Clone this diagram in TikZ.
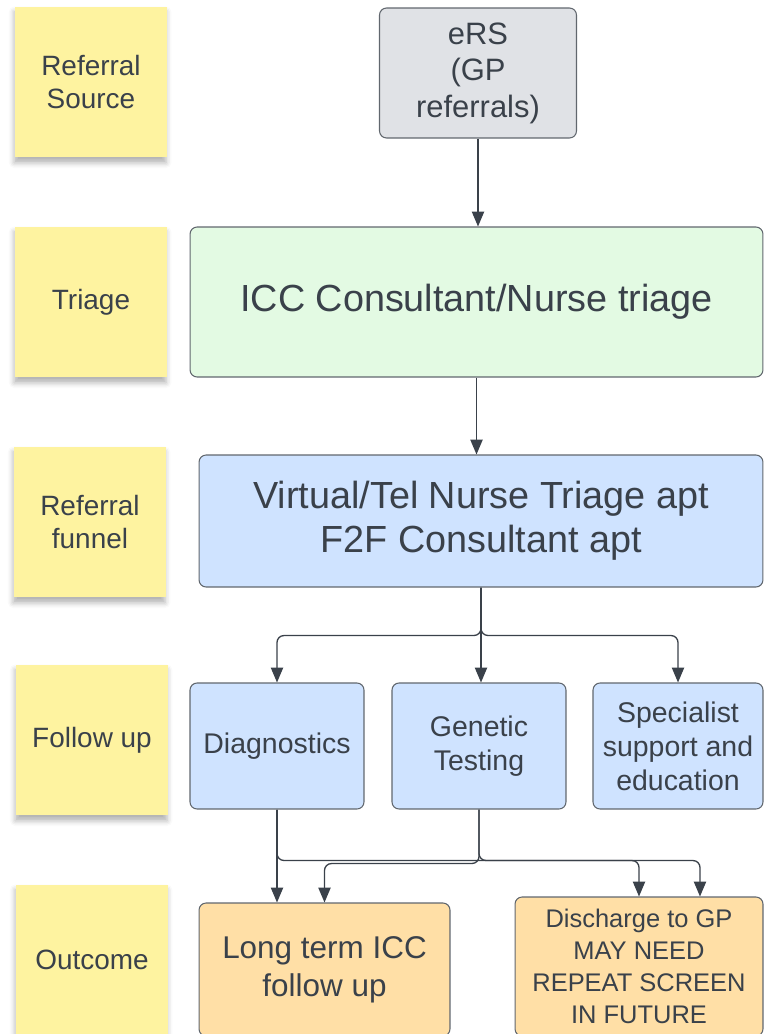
\documentclass[tikz,border=0pt]{standalone}
\usepackage{fontspec}
\setmainfont{Liberation Sans}
\usetikzlibrary{arrows.meta,shadows.blur}
\definecolor{inkgray}{HTML}{3A414A}
\definecolor{sticky}{HTML}{FEF3A0}
\definecolor{srcgray}{HTML}{E0E2E6}
\definecolor{triagegreen}{HTML}{E3FAE3}
\definecolor{funnelblue}{HTML}{CFE3FF}
\definecolor{outorange}{HTML}{FFDFA6}
\begin{document}
\begin{tikzpicture}[x=0.02cm,y=-0.02cm,
   every node/.style={align=center,text=inkgray},
   note/.style={fill=sticky,minimum width=3.04cm,minimum height=3.02cm,
      blur shadow={shadow xshift=-0.5pt,shadow yshift=-3pt,
         shadow blur radius=3pt,shadow opacity=30},
      font=\fontsize{15.9}{18.6}\selectfont},
   box/.style={draw=inkgray!80,rounded corners=4pt,line width=0.6pt},
   link/.style={draw=inkgray,line width=0.75pt,rounded corners=4pt,
      -{Triangle[width=7pt,length=8.5pt]}}]

\useasboundingbox (0,0) rectangle (764,1034);

% row labels
\node[note] (lsource) at (91,82) {Referral\\Source};
\node[note] (ltriage) at (91,302) {Triage};
\node[note] (lfunnel) at (90,522) {Referral\\funnel};
\node[note] (lfollow) at (92,740) {Follow up};
\node[note] (loutcome) at (92,960) {Outcome};

% flow
\node[box,fill=srcgray,minimum width=3.94cm,minimum height=2.6cm,
   font=\fontsize{17.6}{20.8}\selectfont] (ers) at (478,73) {eRS\\(GP\\referrals)};
\node[box,fill=triagegreen,minimum width=11.46cm,minimum height=3cm,
   font=\fontsize{21.5}{25.2}\selectfont] (icc) at (476.5,302) {ICC Consultant/Nurse triage};
\node[box,fill=funnelblue,minimum width=11.28cm,minimum height=2.64cm,
   font=\fontsize{21.5}{25.2}\selectfont] (funnel) at (481,521)
   {Virtual/Tel Nurse Triage apt\\F2F Consultant apt};
\node[box,fill=funnelblue,minimum width=3.48cm,minimum height=2.52cm,
   font=\fontsize{16.2}{19.4}\selectfont] (diag) at (277,746) {Diagnostics};
\node[box,fill=funnelblue,minimum width=3.48cm,minimum height=2.52cm,
   font=\fontsize{16.2}{19.4}\selectfont] (genetic) at (479,746) {Genetic\\Testing};
\node[box,fill=funnelblue,minimum width=3.4cm,minimum height=2.52cm,
   font=\fontsize{16.2}{19.4}\selectfont] (support) at (678,746)
   {Specialist\\support and\\education};
\node[box,fill=outorange,minimum width=5.02cm,minimum height=2.66cm,
   font=\fontsize{17.9}{21.4}\selectfont] (longterm) at (324.5,969.5)
   {Long term ICC\\follow up};
\node[box,fill=outorange,minimum width=4.96cm,minimum height=2.78cm,
   font=\fontsize{14.5}{18.1}\selectfont] (discharge) at (639,966.5)
   {Discharge to GP\\MAY NEED\\REPEAT SCREEN\\IN FUTURE};

\draw[link] (ers) -- (ers |- icc.north);
\draw[link] (icc) -- (icc |- funnel.north);
\draw[link] (funnel.south) -- ++(0,48) -| (diag.north);
\draw[link] (funnel.south) -- (funnel.south |- genetic.north);
\draw[link] (funnel.south) -- ++(0,48) -| (support.north);
\draw[link] (diag.south) -- (diag.south |- longterm.north);
\draw[link] (diag.south) -- ++(0,51) -| (discharge.north);
\draw[link] (genetic.south) -- ++(0,54) -| (longterm.north);
\draw[link] (genetic.south) -- ++(0,51) -| ([xshift=1.22cm]discharge.north);

\end{tikzpicture}
\end{document}
